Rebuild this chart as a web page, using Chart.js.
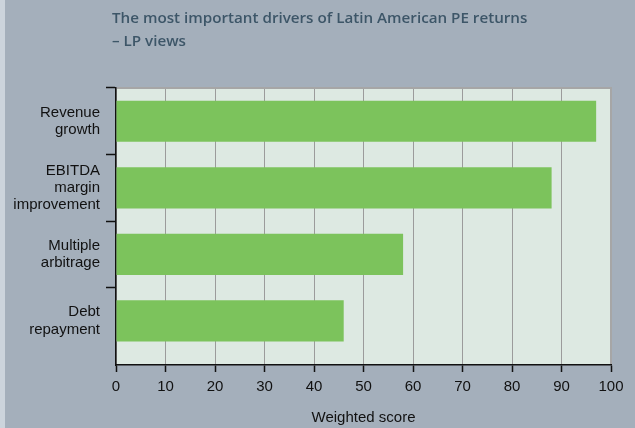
<!DOCTYPE html>
<html>
<head>
<meta charset="utf-8">
<script src="https://cdn.jsdelivr.net/npm/chart.js@4.4.1/dist/chart.umd.min.js"></script>
<style>
  html, body { margin: 0; padding: 0; background: #a4afbb; }
  #wrap { width: 635px; height: 428px; }
</style>
</head>
<body>
<div id="wrap"><canvas id="c" width="635" height="428"></canvas></div>
<script>
// Drivers (multi-line labels) and their weighted scores
const categories = [
  ['Revenue', 'growth'],
  ['EBITDA', 'margin', 'improvement'],
  ['Multiple', 'arbitrage'],
  ['Debt', 'repayment']
];
const scores = [97, 88, 58, 46];
const xRange = [0, 100];
const xStep = 10;
const chartTitle = ['The most important drivers of Latin American PE returns', '– LP views'];
const axisTitle = 'Weighted score';

const FONT = '"Liberation Sans", Arial, sans-serif';
const TITLE_FONT = '600 15.2px "Open Sans", "Liberation Sans", sans-serif';
const INK = '#111111';

// Page backdrop, plot panel, panel frame and heading
const backdrop = {
  id: 'backdrop',
  beforeDraw(chart) {
    const { ctx, chartArea: a, width, height } = chart;
    ctx.save();
    ctx.fillStyle = '#a4afbb';
    ctx.fillRect(0, 0, width, height);
    ctx.fillStyle = '#ccd4dc';
    ctx.fillRect(0, 0, 5, height);
    ctx.fillStyle = '#dde9e2';
    ctx.fillRect(a.left, a.top, a.right - a.left, a.bottom - a.top);
    ctx.restore();
  },
  afterDraw(chart) {
    const { ctx, chartArea: a } = chart;
    ctx.save();
    ctx.strokeStyle = '#a6a6a6';
    ctx.lineWidth = 2;
    ctx.beginPath();
    ctx.moveTo(a.left + 1, a.top);
    ctx.lineTo(a.right, a.top);
    ctx.lineTo(a.right, a.bottom - 1);
    ctx.stroke();
    ctx.fillStyle = '#3d5668';
    ctx.font = TITLE_FONT;
    ctx.textBaseline = 'alphabetic';
    ctx.textAlign = 'left';
    ctx.fillText(chartTitle[0], 112, 23);
    ctx.fillText(chartTitle[1], 112, 46);
    ctx.restore();
  }
};

new Chart(document.getElementById('c'), {
  type: 'bar',
  data: {
    datasets: [{
      data: scores.map((v, i) => ({ x: v, y: i })),
      backgroundColor: '#7cc35c',
      borderWidth: 0,
      categoryPercentage: 1,
      barPercentage: 0.62
    }]
  },
  options: {
    indexAxis: 'y',
    responsive: false,
    animation: false,
    devicePixelRatio: 1,
    layout: { padding: { top: 88, right: 24, left: 0, bottom: 0 } },
    plugins: {
      legend: { display: false },
      tooltip: { enabled: false },
      title: { display: false }
    },
    scales: {
      x: {
        type: 'linear',
        min: xRange[0],
        max: xRange[1],
        afterFit(s) { s.height = 63; },
        ticks: { stepSize: xStep, color: INK, font: { family: FONT, size: 15 }, padding: 6 },
        grid: { color: '#9b9b9b', lineWidth: 1, tickLength: 7, tickColor: INK, tickWidth: 1.5 },
        border: { color: INK, width: 1.5 },
        title: {
          display: true, text: axisTitle, color: INK,
          font: { family: FONT, size: 15 }, padding: { top: 0, bottom: 1 }
        }
      },
      y: {
        type: 'linear',
        reverse: true,
        offset: false,
        min: -0.5,
        max: categories.length - 0.335,
        z: 1,
        afterFit(s) { s.width = 116; },
        afterBuildTicks(s) { s.ticks = categories.map((_, i) => ({ value: i })); },
        ticks: {
          callback: (v) => categories[v],
          color: INK,
          font: { family: FONT, size: 15, lineHeight: 1.15 },
          padding: 6
        },
        grid: {
          offset: true,
          drawOnChartArea: false,
          tickLength: 10,
          tickWidth: 1.5,
          tickColor: (ctx) => ctx.type === 'tick' ? INK : 'rgba(0,0,0,0)'
        },
        border: { color: INK, width: 1.5 }
      }
    }
  },
  plugins: [backdrop]
});
</script>
</body>
</html>
